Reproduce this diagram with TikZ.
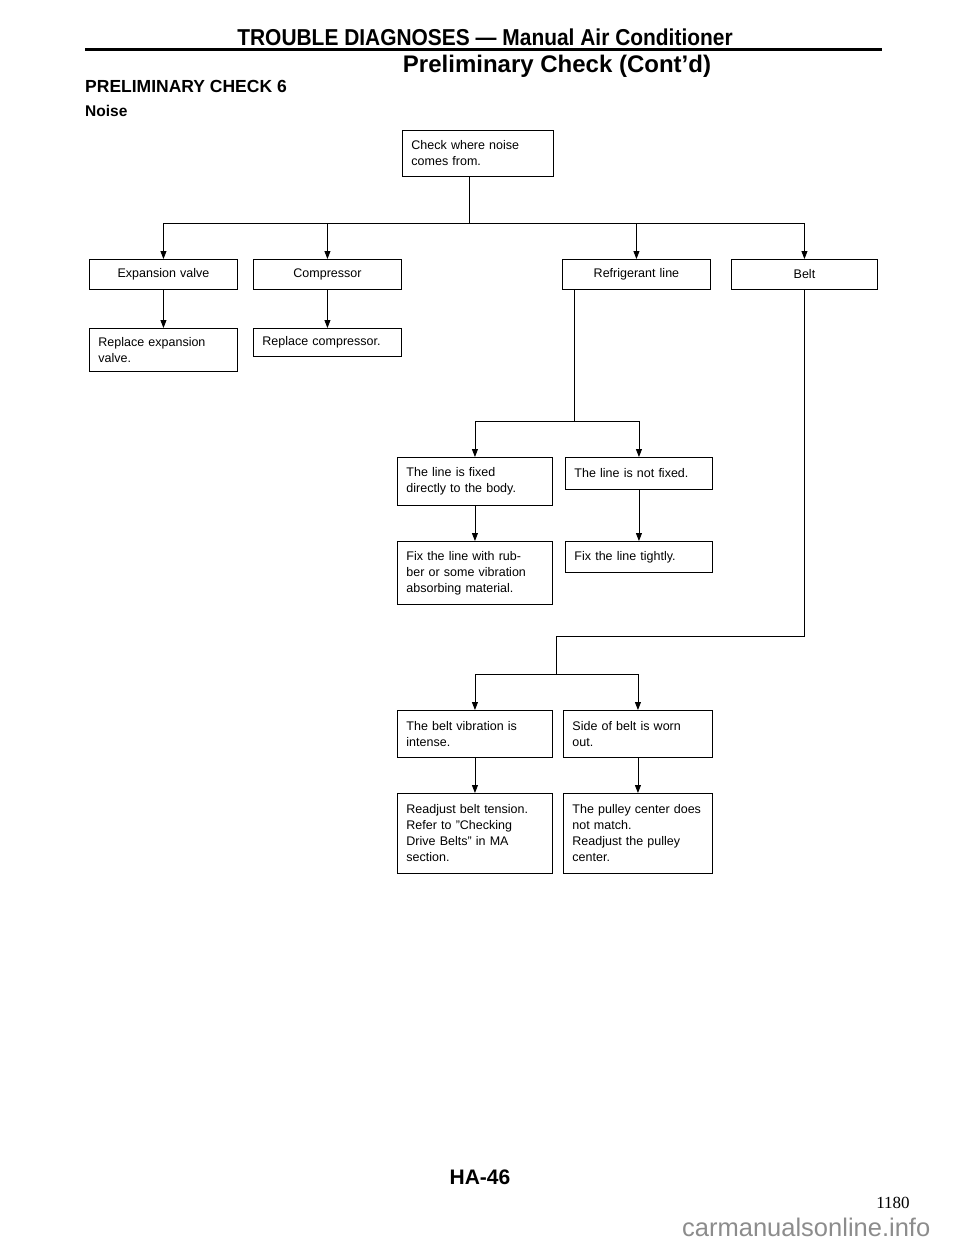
\documentclass[tikz,border=0pt]{standalone}
\usepackage{fontspec}
\setmainfont{Liberation Sans}
\newfontfamily\pagenumfont{Liberation Serif}
\newfontfamily\headfont[FakeStretch=0.91]{Liberation Sans}
\usetikzlibrary{arrows.meta}

\begin{document}
\begin{tikzpicture}[x=1pt, y=-1pt,
		chkbox/.style={draw, line width=0.9pt, anchor=north west, inner xsep=9pt, inner ysep=0pt, align=left, font=\fontsize{12.5}{16}\selectfont},
		flow/.style={line width=0.8pt},
		flowarrow/.style={flow, -{Triangle[length=8pt, width=6pt]}}]
	\path[use as bounding box] (0,0) rectangle (960,1242);
	
	% Header
	\node[anchor=base, font=\headfont\fontsize{23}{26}\selectfont\bfseries] (title) at (485,45) {TROUBLE DIAGNOSES — Manual Air Conditioner};
	\draw[line width=3pt] (85,49) -- (882,49);
	\node[anchor=base, font=\fontsize{24}{28}\selectfont\bfseries] (subtitle) at (557,72) {Preliminary Check (Cont'd)};
	\node[anchor=base west, inner sep=0pt, font=\fontsize{17.5}{20}\selectfont\bfseries] (check) at (85,92) {PRELIMINARY CHECK 6};
	\node[anchor=base west, inner sep=0pt, font=\fontsize{15.5}{18}\selectfont\bfseries] (noisehead) at (85,116) {Noise};
	
	% Start
	\node[chkbox, text width=133pt, minimum height=46pt] (noise) at (402,130) {Check where noise\\comes from.};
	
	% Noise sources
	\node[chkbox, align=center, text width=130pt, minimum height=30pt] (expv) at (89,259) {Expansion valve};
	\node[chkbox, align=center, text width=130pt, minimum height=30pt] (comp) at (253,259) {Compressor};
	\node[chkbox, align=center, text width=130pt, minimum height=30pt] (refl) at (562,259) {Refrigerant line};
	\node[chkbox, align=center, text width=128pt, minimum height=30pt] (belt) at (731,259) {Belt};
	
	\coordinate (hub) at (469,223);
	\draw[flow] (noise.south -| hub) -- (hub);
	\foreach \part in {expv, comp, refl, belt}
		\draw[flowarrow] (hub) -| (\part.north);
	
	% Expansion valve and compressor
	\node[chkbox, text width=130pt, minimum height=43pt] (repexp) at (89,328) {Replace expansion\\valve.};
	\node[chkbox, text width=130pt, minimum height=28pt] (repcomp) at (253,328) {Replace compressor.};
	\draw[flowarrow] (expv) -- (repexp);
	\draw[flowarrow] (comp) -- (repcomp);
	
	% Refrigerant line
	\node[chkbox, text width=137pt, minimum height=48pt] (fixed) at (397,457) {The line is fixed\\directly to the body.};
	\node[chkbox, text width=129pt, minimum height=32pt] (notfixed) at (565,457) {The line is not fixed.};
	\node[chkbox, text width=137pt, minimum height=63pt] (rubber) at (397,541) {Fix the line with rub-\\ber or some vibration\\absorbing material.};
	\node[chkbox, text width=129pt, minimum height=31pt] (tight) at (565,541) {Fix the line tightly.};
	
	\coordinate (linehub) at (574,421);
	\draw[flow] (refl.south -| linehub) -- (linehub);
	\draw[flowarrow] (linehub) -| (fixed.north);
	\draw[flowarrow] (linehub) -| (notfixed.north);
	\draw[flowarrow] (fixed) -- (rubber);
	\draw[flowarrow] (notfixed) -- (tight);
	
	% Belt
	\node[chkbox, text width=137pt, minimum height=47pt] (vib) at (397,710) {The belt vibration is\\intense.};
	\node[chkbox, text width=131pt, minimum height=47pt] (worn) at (563,710) {Side of belt is worn\\out.};
	\node[chkbox, text width=137pt, minimum height=80pt] (readj) at (397,793) {Readjust belt tension.\\Refer to "Checking\\Drive Belts" in MA\\section.};
	\node[chkbox, text width=131pt, minimum height=80pt] (pulley) at (563,793) {The pulley center does\\not match.\\Readjust the pulley\\center.};
	
	\coordinate (beltturn) at (556,636);
	\coordinate (belthub) at (556,674);
	\draw[flow] (belt.south) |- (beltturn) -- (belthub);
	\draw[flowarrow] (belthub) -| (vib.north);
	\draw[flowarrow] (belthub) -| (worn.north);
	\draw[flowarrow] (vib) -- (readj);
	\draw[flowarrow] (worn) -- (pulley);
	
	% Footer
	\node[anchor=base, font=\fontsize{21}{24}\selectfont\bfseries] (pageid) at (480,1184) {HA-46};
	\node[anchor=base, font=\pagenumfont\fontsize{17}{20}\selectfont] (pagenum) at (893,1208) {1180};
	\node[anchor=base west, inner sep=0pt, text=black!45, font=\fontsize{25.5}{28}\selectfont] (site) at (682,1236) {carmanualsonline.info};
\end{tikzpicture}
\end{document}
